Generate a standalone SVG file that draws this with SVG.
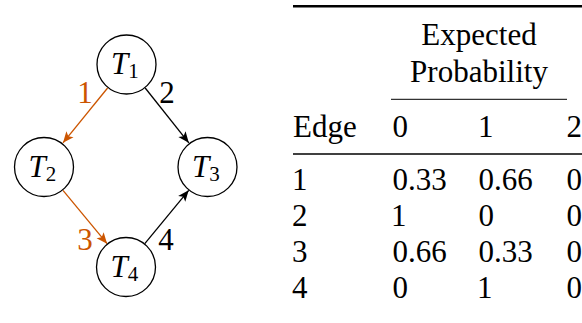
<svg xmlns="http://www.w3.org/2000/svg" width="582" height="323" viewBox="0 0 582 323">
<style>
  text { font-family: "Liberation Serif", "Nimbus Roman", "Nimbus Roman No9 L", FreeSerif, "Noto Serif", "DejaVu Serif", Times, serif; fill: #000; }
  .node circle { fill: #fff; stroke: #000; stroke-width: 1.3; }
  .lab { font-size: 31px; font-style: italic; }
  .sub { font-size: 21px; font-style: normal; }
  .edge { fill: none; stroke-width: 1.3; }
  .blk { stroke: #000; }
  .org { stroke: #cc5500; }
  .elab { font-size: 31px; text-anchor: middle; }
  .elab.o { fill: #cc5500; }
  .cell { font-size: 31px; }
  .hdr { font-size: 31px; text-anchor: middle; }
</style>
<defs>
  <marker id="ab" viewBox="-12 -6 13 12" markerWidth="13" markerHeight="12" refX="0" refY="0" orient="auto" markerUnits="userSpaceOnUse">
    <path d="M0,0 L-11,-4.6 L-8.5,0 L-11,4.6 Z" fill="#000"/>
  </marker>
  <marker id="ao" viewBox="-12 -6 13 12" markerWidth="13" markerHeight="12" refX="0" refY="0" orient="auto" markerUnits="userSpaceOnUse">
    <path d="M0,0 L-11,-4.6 L-8.5,0 L-11,4.6 Z" fill="#cc5500"/>
  </marker>
</defs>

<g id="connectors">
  <line class="edge org" x1="107.6" y1="88" x2="63" y2="142.8" marker-end="url(#ao)"/>
  <line class="edge blk" x1="145.2" y1="88" x2="188.8" y2="142.8" marker-end="url(#ab)"/>
  <line class="edge org" x1="63" y1="190.3" x2="107.1" y2="243.7" marker-end="url(#ao)"/>
  <line class="edge blk" x1="144.8" y1="243.7" x2="188.7" y2="190.3" marker-end="url(#ab)"/>
  <text class="elab o" x="85" y="103">1</text>
  <text class="elab" x="167" y="103">2</text>
  <text class="elab o" x="85" y="250">3</text>
  <text class="elab" x="166" y="250">4</text>
</g>

<g id="T1" class="node">
  <circle cx="126.5" cy="64.5" r="29.5"/>
  <text class="lab" x="111" y="74">T<tspan class="sub" dy="4">1</tspan></text>
</g>
<g id="T2" class="node">
  <circle cx="44" cy="167" r="29.5"/>
  <text class="lab" x="28.5" y="176.5">T<tspan class="sub" dy="4">2</tspan></text>
</g>
<g id="T3" class="node">
  <circle cx="207.5" cy="167" r="29.5"/>
  <text class="lab" x="192" y="176.5">T<tspan class="sub" dy="4">3</tspan></text>
</g>
<g id="T4" class="node">
  <circle cx="126" cy="267" r="29.5"/>
  <text class="lab" x="110.5" y="276.5">T<tspan class="sub" dy="4">4</tspan></text>
</g>

<g id="table">
  <line x1="293" y1="6.3" x2="582" y2="6.3" stroke="#000" stroke-width="2.5"/>
  <text class="hdr" x="479" y="45">Expected</text>
  <text class="hdr" x="479" y="81.7">Probability</text>
  <line x1="391" y1="99.3" x2="567" y2="99.3" stroke="#000" stroke-width="1"/>
  <text class="cell" x="293" y="136.7">Edge</text>
  <text class="cell" x="392.5" y="136.7">0</text>
  <text class="cell" x="478" y="136.7">1</text>
  <text class="cell" x="566.5" y="136.7">2</text>
  <line x1="293" y1="154" x2="582" y2="154" stroke="#000" stroke-width="1.6"/>

  <text class="cell" x="292" y="190">1</text>
  <text class="cell" x="392.5" y="190">0.33</text>
  <text class="cell" x="478.5" y="190">0.66</text>
  <text class="cell" x="566.5" y="190">0</text>

  <text class="cell" x="292" y="226">2</text>
  <text class="cell" x="391" y="226">1</text>
  <text class="cell" x="478.5" y="226">0</text>
  <text class="cell" x="566.5" y="226">0</text>

  <text class="cell" x="292" y="262">3</text>
  <text class="cell" x="392.5" y="262">0.66</text>
  <text class="cell" x="478.5" y="262">0.33</text>
  <text class="cell" x="566.5" y="262">0</text>

  <text class="cell" x="292" y="298">4</text>
  <text class="cell" x="392.5" y="298">0</text>
  <text class="cell" x="477" y="298">1</text>
  <text class="cell" x="566.5" y="298">0</text>
</g>
</svg>
